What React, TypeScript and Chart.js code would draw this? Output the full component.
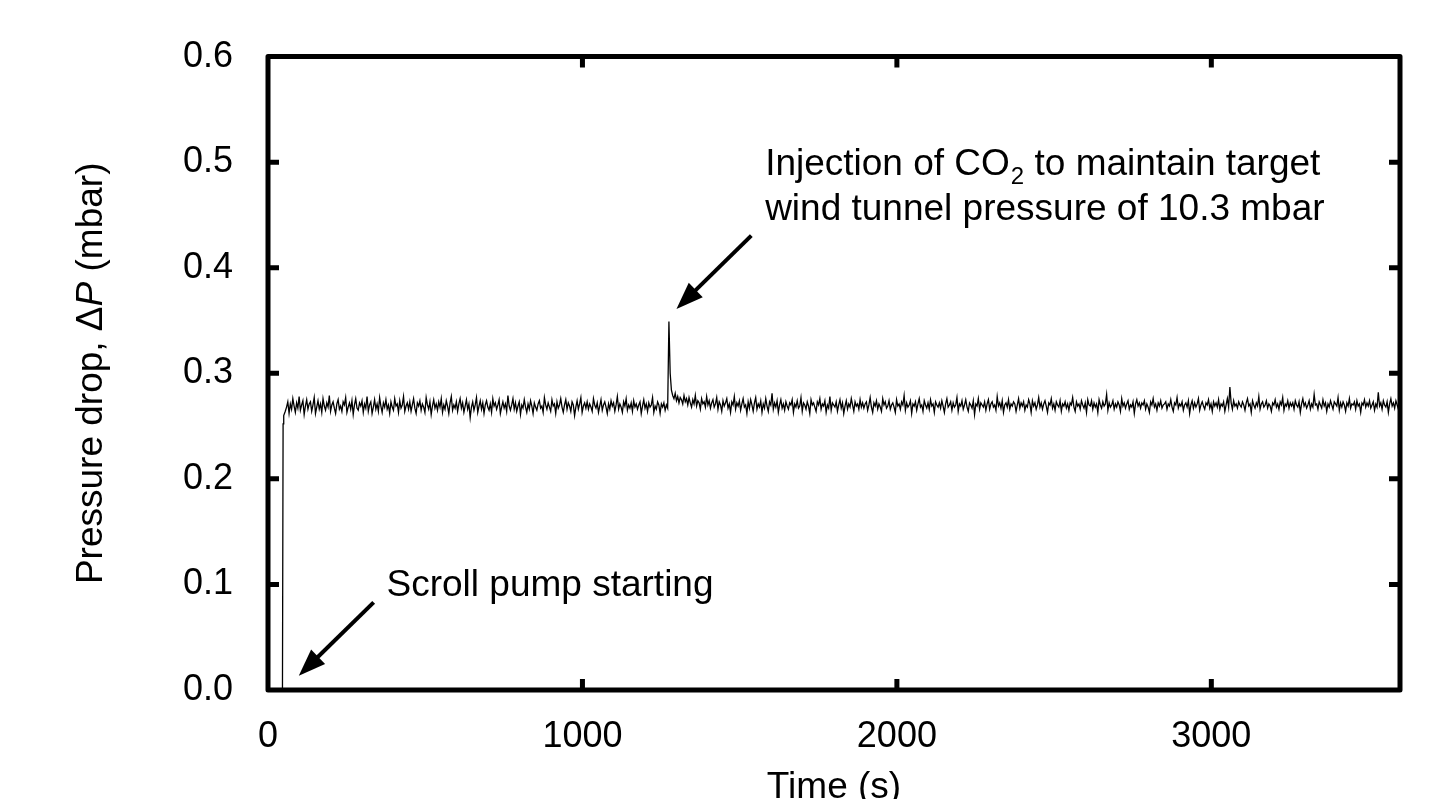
import React, { useEffect, useRef } from "react";
import { Chart, registerables } from "chart.js";

Chart.register(...registerables);

// ---- Data ----
// Start-up of the scroll pump (time in s, pressure drop in mbar)
const startTimes = [0, 46, 48, 50];
const startPressure = [0.0, 0.0, 0.252, 0.26];

// Steady signal, sampled every 4 s from t = 55 s to t = 3599 s, in µbar
const sampleStart = 55;
const sampleStep = 4;
const pressureMicrobar = [
  264, 268, 273, 262, 271, 266, 276, 269, 263, 272, 267, 278, 265, 270, 274, 261, 269, 275, 266, 271,
  273, 264, 270, 277, 262, 268, 274, 266, 271, 263, 276, 269, 265, 272, 268, 279, 264, 270, 273, 267,
  262, 271, 275, 266, 269, 264, 273, 270, 277, 263, 268, 272, 266, 274, 261, 270, 276, 267, 265, 272,
  269, 274, 263, 271, 267, 278, 264, 270, 273, 262, 268, 275, 266, 271, 264, 277, 269, 263, 272, 268,
  275, 266, 270, 262, 273, 268, 265, 276, 269, 271, 263, 274, 267, 270, 278, 264, 269, 272, 266, 273,
  264, 270, 276, 267, 262, 272, 269, 274, 265, 271, 268, 263, 277, 270, 266, 273, 261, 269, 275, 267,
  271, 265, 273, 268, 276, 263, 270, 266, 274, 269, 262, 272, 278, 265, 270, 267, 273, 264, 271, 276,
  267, 272, 263, 269, 275, 266, 271, 258, 268, 273, 265, 270, 277, 263, 269, 274, 266, 272, 262, 270,
  274, 268, 265, 271, 263, 276, 269, 272, 266, 270, 275, 262, 268, 273, 267, 271, 264, 279, 269, 265,
  270, 276, 266, 272, 264, 269, 273, 261, 270, 267, 275, 268, 263, 271, 266, 274, 269, 262, 272, 268,
  265, 271, 274, 267, 269, 263, 277, 270, 266, 272, 268, 264, 275, 269, 271, 262, 273, 267, 270, 276,
  268, 263, 270, 275, 266, 272, 269, 264, 273, 270, 260, 268, 274, 266, 271, 277, 263, 269, 272, 267,
  273, 266, 271, 268, 264, 276, 270, 267, 272, 263, 269, 275, 265, 270, 273, 268, 262, 271, 266, 274,
  269, 272, 264, 270, 278, 266, 271, 268, 263, 273, 269, 276, 265, 270, 267, 272, 264, 274, 268, 271,
  266, 270, 273, 262, 269, 275, 267, 271, 264, 272, 268, 270, 277, 263, 269, 266, 273, 270, 262, 271,
  268, 272, 265, 270, 267, 349, 300, 284, 279, 276, 281, 274, 278, 272, 277, 275, 271, 279, 273, 276,
  270, 277, 272, 268, 275, 271, 279, 269, 274, 272, 266, 276, 271, 273, 268, 278, 270, 274, 267, 272,
  275, 268, 271, 277, 266, 273, 270, 264, 274, 269, 272, 276, 267, 271, 263, 273, 270, 278, 266, 272,
  269, 274, 265, 271, 276, 268, 270, 262, 273, 267, 275, 270, 264, 272, 277, 266, 271, 268, 274, 263,
  271, 267, 276, 269, 264, 273, 270, 281, 266, 272, 268, 274, 263, 270, 275, 267, 271, 265, 273, 269,
  266, 272, 270, 275, 263, 271, 268, 274, 267, 269, 277, 264, 272, 270, 266, 273, 269, 262, 275, 270,
  272, 268, 264, 273, 270, 276, 266, 271, 269, 274, 263, 270, 267, 278, 265, 272, 270, 268, 273, 264,
  270, 275, 267, 272, 262, 269, 274, 266, 271, 268, 276, 270, 264, 273, 269, 271, 266, 275, 268, 272,
  267, 271, 273, 265, 270, 277, 268, 263, 272, 269, 274, 266, 271, 268, 264, 276, 270, 273, 267, 269,
  274, 266, 270, 272, 268, 263, 275, 269, 271, 266, 273, 270, 279, 265, 272, 268, 270, 274, 262, 271,
  269, 273, 265, 271, 276, 268, 270, 264, 274, 270, 267, 272, 266, 275, 269, 271, 263, 273, 270, 268,
  272, 267, 274, 269, 263, 271, 276, 268, 270, 273, 265, 272, 268, 270, 277, 264, 271, 269, 274, 266,
  270, 275, 268, 264, 272, 270, 267, 274, 261, 271, 269, 276, 266, 272, 270, 268, 273, 265, 271, 275,
  266, 271, 273, 268, 270, 265, 278, 269, 272, 267, 274, 263, 270, 272, 268, 275, 266, 271, 269, 273,
  271, 264, 270, 276, 267, 272, 269, 273, 265, 270, 268, 275, 271, 263, 274, 269, 272, 266, 270, 277,
  268, 272, 266, 271, 274, 269, 263, 272, 270, 276, 267, 271, 265, 273, 270, 268, 274, 264, 271, 269,
  273, 267, 271, 265, 272, 270, 277, 268, 264, 273, 269, 271, 266, 274, 270, 267, 272, 263, 275, 270,
  269, 274, 266, 272, 268, 271, 263, 275, 270, 267, 273, 269, 271, 280, 265, 272, 268, 270, 274, 266,
  271, 268, 273, 270, 264, 276, 269, 272, 267, 271, 274, 266, 270, 268, 273, 262, 271, 275, 269, 272,
  267, 272, 270, 274, 266, 271, 268, 263, 273, 270, 276, 268, 271, 265, 272, 269, 274, 267, 270, 271,
  273, 266, 271, 269, 275, 268, 264, 272, 270, 277, 267, 271, 269, 273, 265, 270, 272, 268, 274, 262,
  270, 274, 267, 272, 268, 271, 276, 265, 270, 273, 269, 266, 272, 270, 275, 267, 271, 264, 273, 269,
  272, 268, 275, 266, 271, 269, 273, 264, 270, 276, 268, 287, 272, 266, 274, 269, 271, 267, 273, 270,
  268, 273, 270, 265, 272, 276, 269, 271, 263, 274, 270, 267, 272, 269, 278, 266, 271, 273, 268, 270,
  274, 267, 271, 269, 264, 272, 270, 275, 268, 271, 266, 273, 270, 277, 265, 271, 269, 274, 267, 272,
  269, 272, 266, 274, 270, 268, 273, 263, 271, 276, 269, 272, 267, 270, 274, 266, 271, 268, 280, 270,
  271, 266, 273, 270, 267, 275, 269, 272, 264, 271, 268, 274, 270, 266, 273, 271, 269, 277, 265, 272,
  268, 273, 270, 264, 272, 269, 276, 267, 271, 270, 273, 266, 274, 269, 271, 263, 272, 270, 275, 268,
  272, 269, 274, 267, 270, 273, 265, 271, 268, 282, 269, 272, 266, 274, 270, 268, 273, 263, 271, 276,
  269, 272, 267, 274, 270, 266, 271,
];

const xTickValues = [0, 1000, 2000, 3000];
const yTickValues = [0, 0.1, 0.2, 0.3, 0.4, 0.5, 0.6];
const xMin = 0;
const xMax = 3600;
const yMin = 0;
const yMax = 0.6;

const xTitle = "Time (s)";
const yTitleParts = [
  { text: "Pressure drop, Δ", italic: false },
  { text: "P", italic: true },
  { text: " (mbar)", italic: false },
];

// Annotations (data coordinates: time in s, pressure in mbar)
const pumpArrow = { tail: [336, 0.083], tip: [98, 0.0136] };
const pumpLabel = { x: 377, y: 0.0894, text: "Scroll pump starting" };
const injectionArrow = { tail: [1537, 0.4304], tip: [1299, 0.361] };
const injectionLabel = {
  x: 1581,
  y1: 0.4875,
  y2: 0.4454,
  before: "Injection of CO",
  sub: "2",
  after: " to maintain target",
  line2: "wind tunnel pressure of 10.3 mbar",
};

const FONT = '"Liberation Sans", Arial, Helvetica, sans-serif';
const TEXT_SIZE = 37;
const TICK_SIZE = 36;

function drawArrow(ctx: CanvasRenderingContext2D, tx: number, ty: number, hx: number, hy: number) {
  const ang = Math.atan2(hy - ty, hx - tx);
  const headLen = 27;
  const headHalf = 10;
  const bx = hx - headLen * Math.cos(ang);
  const by = hy - headLen * Math.sin(ang);
  ctx.beginPath();
  ctx.lineWidth = 4;
  ctx.lineCap = "butt";
  ctx.moveTo(tx, ty);
  ctx.lineTo(bx + 4 * Math.cos(ang), by + 4 * Math.sin(ang));
  ctx.stroke();
  ctx.beginPath();
  ctx.moveTo(hx, hy);
  ctx.lineTo(bx + headHalf * Math.sin(ang), by - headHalf * Math.cos(ang));
  ctx.lineTo(bx - headHalf * Math.sin(ang), by + headHalf * Math.cos(ang));
  ctx.closePath();
  ctx.fill();
}

const framePlugin = {
  id: "framePlugin",
  afterDraw(chart: any) {
    const { ctx, chartArea } = chart;
    const { left, right, top, bottom } = chartArea;
    const xs = chart.scales.x;
    const ys = chart.scales.y;
    ctx.save();
    ctx.strokeStyle = "#000";
    ctx.fillStyle = "#000";
    // frame
    ctx.lineWidth = 5;
    ctx.lineJoin = "round";
    ctx.strokeRect(left, top, right - left, bottom - top);
    // inward ticks on all four sides
    const tl = 11;
    ctx.lineWidth = 5;
    ctx.lineCap = "butt";
    xs.ticks.forEach((t: any) => {
      const px = xs.getPixelForValue(t.value);
      if (px < left + 4 || px > right - 4) return;
      ctx.beginPath();
      ctx.moveTo(px, bottom);
      ctx.lineTo(px, bottom - tl);
      ctx.moveTo(px, top);
      ctx.lineTo(px, top + tl);
      ctx.stroke();
    });
    ys.ticks.forEach((t: any) => {
      const py = ys.getPixelForValue(t.value);
      if (py < top + 4 || py > bottom - 4) return;
      ctx.beginPath();
      ctx.moveTo(left, py);
      ctx.lineTo(left + tl, py);
      ctx.moveTo(right, py);
      ctx.lineTo(right - tl, py);
      ctx.stroke();
    });

    // arrows
    drawArrow(
      ctx,
      xs.getPixelForValue(pumpArrow.tail[0]),
      ys.getPixelForValue(pumpArrow.tail[1]),
      xs.getPixelForValue(pumpArrow.tip[0]),
      ys.getPixelForValue(pumpArrow.tip[1])
    );
    drawArrow(
      ctx,
      xs.getPixelForValue(injectionArrow.tail[0]),
      ys.getPixelForValue(injectionArrow.tail[1]),
      xs.getPixelForValue(injectionArrow.tip[0]),
      ys.getPixelForValue(injectionArrow.tip[1])
    );

    // annotation text
    ctx.textBaseline = "alphabetic";
    ctx.textAlign = "left";
    ctx.font = `${TEXT_SIZE}px ${FONT}`;
    ctx.fillText(pumpLabel.text, xs.getPixelForValue(pumpLabel.x), ys.getPixelForValue(pumpLabel.y));

    let lx = xs.getPixelForValue(injectionLabel.x);
    const ly1 = ys.getPixelForValue(injectionLabel.y1);
    const ly2 = ys.getPixelForValue(injectionLabel.y2);
    ctx.fillText(injectionLabel.before, lx, ly1);
    lx += ctx.measureText(injectionLabel.before).width;
    ctx.font = `24px ${FONT}`;
    ctx.fillText(injectionLabel.sub, lx + 1, ly1 + 9);
    lx += ctx.measureText(injectionLabel.sub).width + 1;
    ctx.font = `${TEXT_SIZE}px ${FONT}`;
    ctx.fillText(injectionLabel.after, lx, ly1);
    ctx.fillText(injectionLabel.line2, xs.getPixelForValue(injectionLabel.x), ly2);

    // x title
    ctx.textAlign = "center";
    ctx.fillText(xTitle, (left + right) / 2, 798);

    // y title (rotated, mixed italic)
    const fonts = yTitleParts.map((p) =>
      p.italic ? `italic ${TEXT_SIZE}px ${FONT}` : `${TEXT_SIZE}px ${FONT}`
    );
    const widths = yTitleParts.map((p, i) => {
      ctx.font = fonts[i];
      return ctx.measureText(p.text).width;
    });
    const total = widths.reduce((a, b) => a + b, 0);
    ctx.save();
    ctx.translate(102, (top + bottom) / 2);
    ctx.rotate(-Math.PI / 2);
    ctx.textAlign = "left";
    let cx = -total / 2;
    yTitleParts.forEach((p, i) => {
      ctx.font = fonts[i];
      ctx.fillText(p.text, cx, 0);
      cx += widths[i];
    });
    ctx.restore();

    ctx.restore();
  },
};

export default function App() {
  const canvasRef = useRef<HTMLCanvasElement | null>(null);

  useEffect(() => {
    const canvas = canvasRef.current;
    if (!canvas) return;
    const points: { x: number; y: number }[] = [];
    startTimes.forEach((t, i) => points.push({ x: t, y: startPressure[i] }));
    pressureMicrobar.forEach((v, i) => points.push({ x: sampleStart + i * sampleStep, y: v / 1000 }));

    const chart = new Chart(canvas, {
      type: "line",
      data: {
        datasets: [
          {
            data: points,
            borderColor: "#000",
            borderWidth: 1.3,
            pointRadius: 0,
            tension: 0,
            fill: false,
          },
        ],
      },
      options: {
        animation: false,
        responsive: false,
        devicePixelRatio: 1,
        parsing: false,
        layout: { padding: { top: 50, right: 39, left: 0, bottom: 0 } },
        plugins: {
          legend: { display: false },
          tooltip: { enabled: false },
          title: { display: false },
        },
        scales: {
          x: {
            type: "linear",
            min: xMin,
            max: xMax,
            grid: { display: false, drawTicks: false },
            border: { display: false },
            afterBuildTicks: (scale: any) => {
              scale.ticks = xTickValues.map((v) => ({ value: v }));
            },
            afterFit: (scale: any) => {
              scale.height = 109;
            },
            ticks: {
              padding: 25,
              color: "#000",
              font: { family: FONT, size: TICK_SIZE },
              maxRotation: 0,
              callback: (v: any) => String(v),
            },
          },
          y: {
            type: "linear",
            min: yMin,
            max: yMax,
            grid: { display: false, drawTicks: false },
            border: { display: false },
            afterBuildTicks: (scale: any) => {
              scale.ticks = yTickValues.map((v) => ({ value: v }));
            },
            afterFit: (scale: any) => {
              scale.width = 268;
            },
            ticks: {
              padding: 35,
              color: "#000",
              font: { family: FONT, size: TICK_SIZE },
              callback: (v: any) => Number(v).toFixed(1),
            },
          },
        },
      } as any,
      plugins: [framePlugin],
    });
    return () => chart.destroy();
  }, []);

  return (
    <div style={{ position: "fixed", left: 0, top: 0, width: 1439, height: 799, background: "#fff" }}>
      <canvas ref={canvasRef} width={1439} height={799} style={{ display: "block" }} />
    </div>
  );
}
